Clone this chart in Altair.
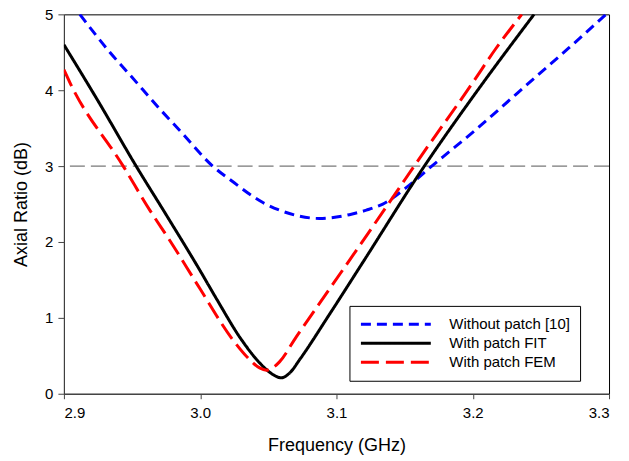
import altair as alt
import pandas as pd

series_names = ["Without patch [10]", "With patch FIT", "With patch FEM"]
series_colors = ["#0000FF", "#000000", "#FF0000"]

blue_freq = [2.9117, 2.9337, 2.950, 2.970, 2.985, 3.0092, 3.025, 3.0387, 3.046, 3.0582,
             3.0729, 3.0875, 3.1095, 3.122, 3.134, 3.1535, 3.1706, 3.1828, 3.2023,
             3.2194, 3.2465, 3.2707, 3.2978]
blue_ar = [5.00, 4.50, 4.17, 3.76, 3.47, 3.00, 2.78, 2.60, 2.52, 2.42,
           2.34, 2.31, 2.36, 2.42, 2.50, 2.75, 3.01, 3.19, 3.48,
           3.75, 4.18, 4.56, 5.00]

black_freq = [2.900, 2.925, 2.953, 2.975, 3.000, 3.012, 3.030, 3.044, 3.052, 3.0595,
              3.066, 3.073, 3.095, 3.120, 3.1645, 3.200, 3.245]
black_ar = [4.60, 3.86, 3.00, 2.36, 1.62, 1.25, 0.72, 0.40, 0.27, 0.21,
            0.28, 0.45, 1.05, 1.75, 3.00, 3.91, 5.00]

red_freq = [2.900, 2.9044, 2.9435, 2.963, 2.9777, 3.000, 3.024, 3.0363, 3.0436, 3.0485,
            3.053, 3.0582, 3.0705, 3.0949, 3.146, 3.157, 3.200, 3.217, 3.236]
red_ar = [4.27, 4.10, 3.00, 2.42, 2.02, 1.38, 0.71, 0.45, 0.34, 0.31,
          0.34, 0.42, 0.75, 1.38, 2.71, 3.00, 4.10, 4.55, 5.00]

ref_level = [3.0]
x_ticks = [2.9, 3.0, 3.1, 3.2, 3.3]
y_ticks = [0, 1, 2, 3, 4, 5]

rows = []
for name, fs, vs in zip(series_names, [blue_freq, black_freq, red_freq], [blue_ar, black_ar, red_ar]):
    for i, (f, v) in enumerate(zip(fs, vs)):
        rows.append({"series": name, "freq": f, "ar": v, "idx": i})
df = pd.DataFrame(rows)
ref_df = pd.DataFrame({"level": ref_level})

legend = alt.Legend(
    title=None, orient="none", legendX=286, legendY=292,
    symbolType="M-5,0H5", symbolSize=196, symbolStrokeWidth=3,
    symbolOffset=28,
    labelFontSize=15, labelFont="Liberation Sans", labelColor="black",
    labelOffset=45, padding=10, strokeColor="black", fillColor="white",
)

xscale = alt.Scale(domain=[2.9, 3.3], nice=False, zero=False)
yscale = alt.Scale(domain=[0, 5], nice=False)

ref = alt.Chart(ref_df).mark_rule(color="#555555", strokeWidth=1, strokeDash=[15, 6]).encode(
    y=alt.Y("level:Q", scale=yscale),
)

lines = alt.Chart(df).mark_line(strokeWidth=3, interpolate="monotone", clip=True).encode(
    x=alt.X("freq:Q", scale=xscale,
            axis=alt.Axis(values=x_ticks, format=".1f", title="Frequency (GHz)",
                          tickSize=5, labelPadding=7, titlePadding=16)),
    y=alt.Y("ar:Q", scale=yscale,
            axis=alt.Axis(values=y_ticks, format="d", title="Axial Ratio (dB)",
                          tickSize=6, labelPadding=5, titlePadding=14)),
    color=alt.Color("series:N", scale=alt.Scale(domain=series_names, range=series_colors), legend=legend),
    strokeDash=alt.StrokeDash("series:N", scale=alt.Scale(domain=series_names, range=[[10, 6], [1, 0], [18, 7]]), legend=legend),
    order="idx:Q",
)

chart = alt.layer(ref, lines).properties(
    width=546, height=380,
    autosize=alt.AutoSizeParams(type="none"),
    padding={"left": 56, "top": 6, "right": 12, "bottom": 63},
).configure_view(
    stroke="black", strokeWidth=1,
).configure_axis(
    grid=False, domainColor="#444444", tickColor="#444444",
    labelFont="Liberation Sans", titleFont="Liberation Sans",
    labelFontSize=15, titleFontSize=18, titleFontWeight="normal",
    labelColor="black", titleColor="black",
)

chart.save("out.html", embed_options={"renderer": "svg", "actions": False})
